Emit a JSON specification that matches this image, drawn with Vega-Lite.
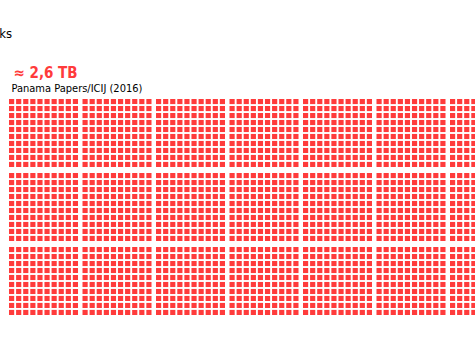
{
  "$schema": "https://vega.github.io/schema/vega-lite/v6.json",
  "autosize": "none",
  "padding": {"left": 9, "top": 99, "right": 0, "bottom": 27},
  "width": 466,
  "height": 216,
  "background": "white",
  "config": {"view": {"stroke": null}, "font": "DejaVu Sans Condensed"},
  "title": {"text": "Leaks", "anchor": "start", "align": "right", "dx": 3, "baseline": "alphabetic", "fontSize": 13, "fontWeight": "normal", "color": "#000000", "offset": 14},
  "data": {
    "values": [
      {"bc": 0, "br": 0, "c": [0,1,2,3,4,5,6,7,8,9], "r": [0,1,2,3,4,5,6,7,8,9]},
      {"bc": 0, "br": 1, "c": [0,1,2,3,4,5,6,7,8,9], "r": [0,1,2,3,4,5,6,7,8,9]},
      {"bc": 0, "br": 2, "c": [0,1,2,3,4,5,6,7,8,9], "r": [0,1,2,3,4,5,6,7,8,9]},
      {"bc": 1, "br": 0, "c": [0,1,2,3,4,5,6,7,8,9], "r": [0,1,2,3,4,5,6,7,8,9]},
      {"bc": 1, "br": 1, "c": [0,1,2,3,4,5,6,7,8,9], "r": [0,1,2,3,4,5,6,7,8,9]},
      {"bc": 1, "br": 2, "c": [0,1,2,3,4,5,6,7,8,9], "r": [0,1,2,3,4,5,6,7,8,9]},
      {"bc": 2, "br": 0, "c": [0,1,2,3,4,5,6,7,8,9], "r": [0,1,2,3,4,5,6,7,8,9]},
      {"bc": 2, "br": 1, "c": [0,1,2,3,4,5,6,7,8,9], "r": [0,1,2,3,4,5,6,7,8,9]},
      {"bc": 2, "br": 2, "c": [0,1,2,3,4,5,6,7,8,9], "r": [0,1,2,3,4,5,6,7,8,9]},
      {"bc": 3, "br": 0, "c": [0,1,2,3,4,5,6,7,8,9], "r": [0,1,2,3,4,5,6,7,8,9]},
      {"bc": 3, "br": 1, "c": [0,1,2,3,4,5,6,7,8,9], "r": [0,1,2,3,4,5,6,7,8,9]},
      {"bc": 3, "br": 2, "c": [0,1,2,3,4,5,6,7,8,9], "r": [0,1,2,3,4,5,6,7,8,9]},
      {"bc": 4, "br": 0, "c": [0,1,2,3,4,5,6,7,8,9], "r": [0,1,2,3,4,5,6,7,8,9]},
      {"bc": 4, "br": 1, "c": [0,1,2,3,4,5,6,7,8,9], "r": [0,1,2,3,4,5,6,7,8,9]},
      {"bc": 4, "br": 2, "c": [0,1,2,3,4,5,6,7,8,9], "r": [0,1,2,3,4,5,6,7,8,9]},
      {"bc": 5, "br": 0, "c": [0,1,2,3,4,5,6,7,8,9], "r": [0,1,2,3,4,5,6,7,8,9]},
      {"bc": 5, "br": 1, "c": [0,1,2,3,4,5,6,7,8,9], "r": [0,1,2,3,4,5,6,7,8,9]},
      {"bc": 5, "br": 2, "c": [0,1,2,3,4,5,6,7,8,9], "r": [0,1,2,3,4,5,6,7,8,9]},
      {"bc": 6, "br": 0, "c": [0,1,2,3,4,5,6,7,8,9], "r": [0,1,2,3,4,5,6,7,8,9]},
      {"bc": 6, "br": 1, "c": [0,1,2,3,4,5,6,7,8,9], "r": [0,1,2,3,4,5,6,7,8,9]},
      {"bc": 6, "br": 2, "c": [0,1,2,3,4,5,6,7,8,9], "r": [0,1,2,3,4,5,6,7,8,9]},
      {"bc": 7, "br": 0, "c": [0,1,2,3,4,5,6,7,8,9], "r": [0,1,2,3,4,5,6,7,8,9]},
      {"bc": 7, "br": 1, "c": [0,1,2,3,4,5,6,7,8,9], "r": [0,1,2,3,4,5,6,7,8,9]},
      {"bc": 7, "br": 2, "c": [0,1,2,3,4,5,6,7,8,9], "r": [0,1,2,3,4,5,6,7,8,9]},
      {"bc": 8, "br": 0, "c": [0,1,2,3,4,5,6,7,8,9], "r": [0,1,2,3,4,5,6,7,8,9]},
      {"bc": 8, "br": 1, "c": [0,1,2,3,4,5,6,7,8,9], "r": [0,1,2,3,4,5,6,7,8,9]}
    ]
  },
  "transform": [{"flatten": ["c"]}, {"flatten": ["r"]}],
  "mark": {"type": "rect", "color": "#ff3b3b", "opacity": 1, "clip": true},
  "encoding": {
    "x": {
      "field": "bc", "type": "ordinal",
      "scale": {"domain": [0,1,2,3,4,5,6,7,8], "range": [0, 657], "paddingInner": 0.061, "paddingOuter": 0},
      "axis": {"orient": "top", "labels": false, "ticks": false, "domain": false, "grid": false,
        "title": "Panama Papers/ICIJ (2016)", "titleAlign": "left", "titleBaseline": "alphabetic", "titleX": 2, "titleY": -8,
        "titleFontSize": 11, "titleFontWeight": "normal", "titleColor": "#000000"}
    },
    "xOffset": {"field": "c", "type": "ordinal", "scale": {"paddingInner": 0.27, "paddingOuter": 0}},
    "y": {
      "field": "br", "type": "ordinal",
      "scale": {"domain": [0,1,2], "paddingInner": 0.081, "paddingOuter": 0},
      "axis": {"orient": "left", "labels": false, "ticks": false, "domain": false, "grid": false,
        "title": "≈ 2,6 TB", "titleAngle": 0, "titleAlign": "left", "titleBaseline": "alphabetic", "titleX": 4, "titleY": -22,
        "titleFontSize": 15, "titleFontWeight": "bold", "titleColor": "#ff3b3b"}
    },
    "yOffset": {"field": "r", "type": "ordinal", "scale": {"paddingInner": 0.27, "paddingOuter": 0}}
  }
}
